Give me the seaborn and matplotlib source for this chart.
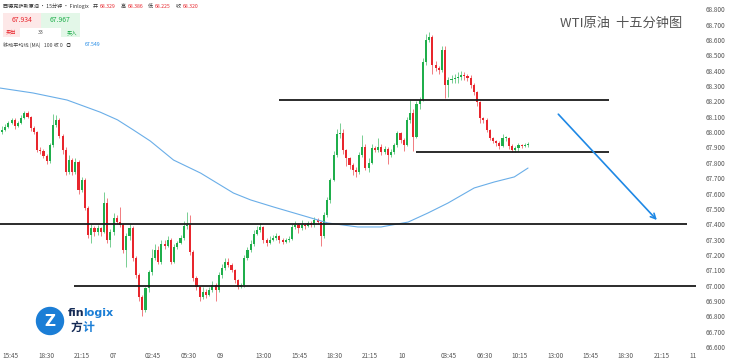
import matplotlib
matplotlib.use("Agg")
import matplotlib.pyplot as plt
import seaborn as sns
import numpy as np
import pandas as pd
from matplotlib.patches import Rectangle, Circle

# 15-minute WTI candles (price units)
first_open = 68.000
closes = [68.014, 68.033, 68.059, 68.079, 68.040, 68.059, 68.092, 68.124, 68.098, 68.027,
          68.001, 67.883, 67.877, 67.844, 67.812, 67.916, 68.046, 68.079, 67.975, 67.883,
          67.740, 67.818, 67.740, 67.805, 67.623, 67.688, 67.506, 67.330, 67.375, 67.349,
          67.375, 67.349, 67.538, 67.297, 67.349, 67.441, 67.414, 67.395, 67.232, 67.323,
          67.375, 67.180, 67.069, 66.926, 66.841, 66.984, 67.089, 67.180, 67.232, 67.154,
          67.271, 67.258, 67.297, 67.154, 67.252, 67.278, 67.310, 67.388, 67.395, 67.219,
          67.050, 66.991, 66.926, 66.958, 66.939, 66.971, 67.004, 66.971, 67.069, 67.115,
          67.154, 67.134, 67.102, 67.036, 66.991, 67.004, 67.180, 67.232, 67.271, 67.336,
          67.362, 67.382, 67.297, 67.278, 67.297, 67.310, 67.323, 67.297, 67.284, 67.297,
          67.304, 67.382, 67.395, 67.375, 67.395, 67.388, 67.408, 67.395, 67.427, 67.414,
          67.323, 67.460, 67.558, 67.688, 67.851, 67.988, 67.994, 67.883, 67.831, 67.786,
          67.753, 67.740, 67.851, 67.903, 67.766, 67.799, 67.896, 67.883, 67.903, 67.870,
          67.890, 67.851, 67.870, 67.916, 67.994, 67.949, 67.916, 68.079, 68.124, 67.968,
          68.183, 68.209, 68.457, 68.600, 68.620, 68.437, 68.418, 68.405, 68.535, 68.307,
          68.339, 68.346, 68.353, 68.359, 68.372, 68.366, 68.353, 68.307, 68.261, 68.196,
          68.092, 68.079, 68.014, 67.962, 67.942, 67.929, 67.909, 67.962, 67.962, 67.909,
          67.883, 67.896, 67.916, 67.909, 67.916, 67.922]
highs = [68.040, 68.050, 68.075, 68.095, 68.090, 68.075, 68.110, 68.135, 68.140, 68.105,
         68.040, 68.010, 67.905, 67.890, 67.860, 67.930, 68.120, 68.110, 68.090, 67.990,
         67.900, 67.850, 67.830, 67.830, 67.820, 67.710, 67.700, 67.520, 67.400, 67.390,
         67.395, 67.385, 67.610, 67.570, 67.370, 67.470, 67.460, 67.510, 67.410, 67.340,
         67.400, 67.390, 67.190, 67.080, 66.940, 66.990, 67.100, 67.240, 67.270, 67.260,
         67.300, 67.300, 67.320, 67.310, 67.270, 67.290, 67.330, 67.420, 67.480, 67.460,
         67.230, 67.060, 67.000, 66.990, 66.975, 66.990, 67.030, 67.020, 67.090, 67.140,
         67.180, 67.180, 67.150, 67.110, 67.040, 67.020, 67.200, 67.250, 67.300, 67.360,
         67.390, 67.410, 67.390, 67.310, 67.320, 67.330, 67.340, 67.330, 67.310, 67.310,
         67.320, 67.400, 67.420, 67.410, 67.430, 67.410, 67.420, 67.420, 67.450, 67.440,
         67.420, 67.480, 67.580, 67.700, 67.880, 68.020, 68.060, 68.020, 67.890, 67.840,
         67.800, 67.770, 67.870, 67.980, 67.920, 67.830, 67.920, 67.910, 67.960, 67.920,
         67.910, 67.900, 67.890, 67.930, 68.010, 68.000, 67.960, 68.100, 68.210, 68.150,
         68.200, 68.230, 68.480, 68.640, 68.650, 68.630, 68.460, 68.430, 68.560, 68.560,
         68.360, 68.370, 68.380, 68.390, 68.400, 68.390, 68.380, 68.370, 68.320, 68.270,
         68.200, 68.100, 68.090, 68.020, 67.970, 67.950, 67.940, 67.990, 67.975, 67.970,
         67.920, 67.910, 67.930, 67.925, 67.930, 67.935]
lows = [67.990, 68.005, 68.025, 68.050, 68.020, 68.030, 68.050, 68.085, 68.090, 68.010,
        67.990, 67.870, 67.860, 67.830, 67.790, 67.800, 67.900, 68.030, 67.960, 67.860,
        67.720, 67.730, 67.720, 67.730, 67.600, 67.610, 67.490, 67.310, 67.280, 67.320,
        67.330, 67.320, 67.340, 67.280, 67.250, 67.330, 67.400, 67.380, 67.210, 67.120,
        67.300, 67.160, 67.050, 66.900, 66.800, 66.830, 66.960, 67.070, 67.170, 67.140,
        67.140, 67.240, 67.250, 67.140, 67.150, 67.240, 67.270, 67.300, 67.370, 67.200,
        67.030, 66.970, 66.900, 66.910, 66.920, 66.930, 66.960, 66.900, 66.960, 67.050,
        67.100, 67.120, 67.090, 67.020, 66.980, 66.985, 66.990, 67.170, 67.220, 67.260,
        67.330, 67.350, 67.280, 67.260, 67.270, 67.290, 67.300, 67.280, 67.270, 67.275,
        67.285, 67.295, 67.370, 67.340, 67.365, 67.370, 67.380, 67.385, 67.385, 67.400,
        67.260, 67.310, 67.450, 67.540, 67.680, 67.840, 67.960, 67.860, 67.780, 67.760,
        67.720, 67.710, 67.730, 67.840, 67.750, 67.740, 67.790, 67.870, 67.870, 67.850,
        67.860, 67.790, 67.840, 67.860, 67.900, 67.930, 67.880, 67.910, 68.060, 67.880,
        67.960, 68.150, 68.200, 68.440, 68.590, 68.380, 68.400, 68.380, 68.390, 68.220,
        68.230, 68.320, 68.320, 68.320, 68.340, 68.340, 68.330, 68.290, 68.240, 68.170,
        68.060, 68.060, 68.000, 67.950, 67.930, 67.910, 67.890, 67.900, 67.945, 67.890,
        67.870, 67.870, 67.880, 67.895, 67.900, 67.905]

# 100-period moving average, sampled along the blue curve (bar index, price)
ma_bars = [-0.6, 9.7, 20.4, 30.8, 36.2, 41.2, 46.5, 53.8, 62.3, 72.6, 78.0, 85.2,
           95.9, 102.2, 111.6, 118.9, 127.4, 133.6, 139.9, 148.1, 154.4, 160.7, 165.0]
ma_vals = [68.287, 68.255, 68.209, 68.130, 68.080, 68.014, 67.942, 67.818, 67.733,
           67.603, 67.558, 67.512, 67.447, 67.408, 67.382, 67.382, 67.414, 67.473,
           67.538, 67.636, 67.675, 67.708, 67.766]

# drawn support / resistance levels and their bar spans
levels = [67.40, 67.00, 68.21, 67.87]
level_starts = [-0.6, 22.6, 86.8, 129.9]
level_ends = [214.8, 217.6, 190.3, 190.3]

arrow_from = (173.9, 68.13)
arrow_to = (206.0, 67.414)

time_labels = ["15:45", "18:30", "21:15", "07", "02:45", "05:30", "09", "13:00", "15:45",
               "18:30", "21:15", "10", "03:45", "06:30", "10:15", "13:00", "15:45",
               "18:30", "21:15", "11"]
time_pos = [2.5, 13.8, 25.0, 35.0, 47.2, 58.5, 68.4, 82.0, 93.4, 104.4, 115.4, 125.6,
            140.0, 151.3, 162.3, 173.6, 184.6, 195.6, 206.9, 216.8]
price_ticks = [66.6, 66.7, 66.8, 66.9, 67.0, 67.1, 67.2, 67.3, 67.4, 67.5, 67.6, 67.7,
               67.8, 67.9, 68.0, 68.1, 68.2, 68.3, 68.4, 68.5, 68.6, 68.7, 68.8]

sns.set_theme(style="white")
plt.rcParams['font.family'] = ['Noto Sans CJK SC', 'DejaVu Sans']

W, H = 740, 362


def fpx(x, y):
    return x / W, 1 - y / H


df = pd.DataFrame({'close': closes, 'high': highs, 'low': lows})
df['open'] = [first_open] + closes[:-1]
df['bar'] = np.arange(len(df))
UP, DOWN = '#1fae4b', '#e8262d'
colors = np.where(df['close'] >= df['open'], UP, DOWN)

fig = plt.figure(figsize=(W / 100, H / 100), dpi=100)
ax = fig.add_axes([0, 14 / H, 697 / W, 348 / H])

ax.vlines(df['bar'], df['low'], df['high'], colors=colors, lw=0.6, alpha=0.7)
body = (df['close'] - df['open']).abs().clip(lower=0.004)
ax.bar(df['bar'], body, bottom=df[['open', 'close']].min(axis=1), width=0.66,
       color=colors, lw=0)

sns.lineplot(x=ma_bars, y=ma_vals, ax=ax, color='#6aaee8', lw=0.8)

for lv, a, b in zip(levels, level_starts, level_ends):
    ax.hlines(lv, a, b, color='#1a1a1a', lw=1.3)

ax.annotate("", xy=arrow_to, xytext=arrow_from,
            arrowprops=dict(arrowstyle='->', color='#1e88e5', lw=1.2, mutation_scale=9))

ax.set_xlim(-0.63, 218.0)
ax.set_ylim(66.5935, 68.8606)
ax.yaxis.tick_right()
ax.set_yticks(price_ticks, [f"{v:.3f}" for v in price_ticks])
ax.set_xticks(time_pos, time_labels)
ax.tick_params(axis='y', length=0, pad=6, labelsize=4.6, labelcolor='#555555')
ax.tick_params(axis='x', length=0, pad=3, labelsize=4.6, labelcolor='#555555')
for s in ax.spines.values():
    s.set_visible(False)
ax.set_xlabel("")
ax.set_ylabel("")

# title
fig.text(*fpx(560, 23), "WTI原油  十五分钟图", fontsize=9.5, color='#555555', va='center')

# header
hs = 3.7
fig.text(*fpx(3, 6), "西德克萨斯原油 · 15分钟 · Finlogix", fontsize=hs, color='#333333', va='center')
for lab, lx, val, vx in [("开", 93, "68.329", 100), ("高", 121, "68.386", 128),
                         ("低", 148, "68.225", 155), ("收", 176, "68.320", 183)]:
    fig.text(*fpx(lx, 6), lab, fontsize=hs, color='#333333', va='center')
    fig.text(*fpx(vx, 6), val, fontsize=hs, color='#e8262d', va='center')

for (x0, y0, w, h, fc) in [(3, 13, 38, 15, '#fde8e8'), (41, 13, 39, 15, '#e3f7e8'),
                           (3, 28, 77, 9, '#fde8e8'), (61, 28, 19, 9, '#e3f7e8'),
                           (20, 28, 41, 9, '#ffffff')]:
    fig.add_artist(Rectangle(fpx(x0, y0 + h), w / W, h / H, facecolor=fc,
                             edgecolor='none', transform=fig.transFigure))
fig.text(*fpx(22, 20.5), "67.934", fontsize=5, color='#e8262d', ha='center', va='center')
fig.text(*fpx(60, 20.5), "67.967", fontsize=5, color='#1fae4b', ha='center', va='center')
fig.text(*fpx(11, 32.5), "卖出", fontsize=3.8, color='#e8262d', ha='center', va='center')
fig.text(*fpx(41, 32.5), "33", fontsize=3.8, color='#555555', ha='center', va='center')
fig.text(*fpx(72, 32.5), "买入", fontsize=3.8, color='#1fae4b', ha='center', va='center')
fig.text(*fpx(3, 45), "移动平均线 (MA)   100 收 0   ◎", fontsize=hs, color='#444444', va='center')
fig.text(*fpx(85, 45), "67.549", fontsize=hs, color='#1e88e5', va='center')

# logo
lax = fig.add_axes([35 / W, 1 - 336 / H, 30 / W, 30 / H])
lax.set_xlim(-1, 1)
lax.set_ylim(-1, 1)
lax.set_aspect('equal')
lax.axis('off')
lax.add_patch(Circle((0, 0), 0.9, color='#1b7ed6'))
lax.text(0.02, -0.02, "Z", fontsize=11, fontweight='bold', color='white',
         ha='center', va='center', family='DejaVu Sans')
fig.text(*fpx(68, 313), "fin", fontsize=8, fontweight='bold', color='#142a55',
         va='center', family='DejaVu Sans')
fig.text(*fpx(83.6, 313), "logix", fontsize=8, fontweight='bold', color='#1b7ed6',
         va='center', family='DejaVu Sans')
fig.text(*fpx(71, 327), "方", fontsize=8.5, fontweight='bold', color='#142a55', va='center')
fig.text(*fpx(83, 327), "计", fontsize=8.5, fontweight='bold', color='#1b7ed6', va='center')

fig.savefig("out.png", dpi=100, facecolor='white')
